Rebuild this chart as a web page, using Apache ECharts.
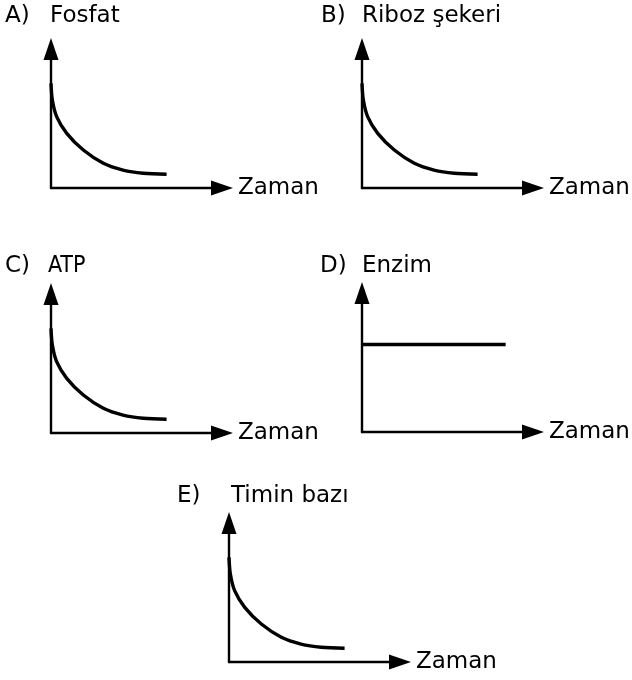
<!DOCTYPE html>
<html>
<head>
<meta charset="utf-8">
<script src="https://cdn.jsdelivr.net/npm/echarts@6/dist/echarts.min.js"></script>
<style>
  html, body { margin: 0; padding: 0; background: #fff; }
  #chart { width: 632px; height: 680px; }
</style>
</head>
<body>
<div id="chart"></div>
<script>
// panel letters and y names
var letters = ['A)', 'B)', 'C)', 'D)', 'E)']
var names = ['Fosfat', 'Riboz şekeri', 'ATP', 'Enzim', 'Timin bazı']
var xName = 'Zaman'

// decreasing curve (same shape for A, B, C, E)
var decayX = [0, 0.8, 3.3, 9.2, 18.9, 30.6, 42.1, 53.9, 67.6]
var decayY = [75.3, 63.3, 51.3, 39.3, 27.3, 17.8, 12.9, 10.6, 9.9]

// constant curve for D
var flatX = [0, 84]
var flatY = [63, 63]

var font = 'DejaVu Sans, sans-serif'
var narrow = 'Liberation Sans Narrow, DejaVu Sans Condensed, sans-serif'

// grid boxes: [left, top]
var boxes = [[51, 49], [362, 49], [51, 294], [362, 293], [229, 523]]
var letterPos = [[5, 5], [321, 5], [5, 255], [320, 255], [177, 485]]
var namePos = [[50, 5], [362, 5], [48, 255], [362, 255], [231, 485]]

var chart = echarts.init(document.getElementById('chart'))

function pairs(xs, ys) {
  return xs.map(function(x, i) { return [x, ys[i]] })
}

var grids = [], xAxes = [], yAxes = [], series = [], titles = []
boxes.forEach(function(b, i) {
  grids.push({ left: b[0], top: b[1], width: 171, height: 139 })
  var line = { show: true, symbol: ['none', 'triangle'], symbolSize: [15, 22],
    lineStyle: { color: '#000', width: 2.4 } }
  xAxes.push({
    type: 'value', gridIndex: i, min: 0, max: 100,
    name: xName, nameLocation: 'end', nameGap: 16,
    nameTextStyle: { color: '#000', fontSize: 23, fontFamily: font, verticalAlign: 'middle' },
    axisLine: line, axisTick: { show: false }, axisLabel: { show: false }, splitLine: { show: false }
  })
  yAxes.push({
    type: 'value', gridIndex: i, min: 0, max: 100,
    axisLine: line, axisTick: { show: false }, axisLabel: { show: false }, splitLine: { show: false }
  })
  var d = i === 3 ? pairs(flatX, flatY) : pairs(decayX, decayY)
  series.push({
    type: 'line', xAxisIndex: i, yAxisIndex: i, data: d,
    smooth: i === 3 ? false : 0.3, showSymbol: false, silent: true,
    lineStyle: { color: '#000', width: 3.4 }
  })
  titles.push({ text: letters[i], left: letterPos[i][0], top: letterPos[i][1], padding: 0,
    textStyle: { color: '#000', fontSize: 23, fontWeight: 'normal', fontFamily: font } })
  titles.push({ text: names[i], left: namePos[i][0], top: namePos[i][1], padding: 0,
    textStyle: { color: '#000', fontSize: 23, fontWeight: 'normal', fontFamily: i === 2 ? narrow : font } })
})

chart.setOption({
  backgroundColor: '#fff',
  animation: false,
  title: titles,
  grid: grids,
  xAxis: xAxes,
  yAxis: yAxes,
  series: series
})
</script>
</body>
</html>
